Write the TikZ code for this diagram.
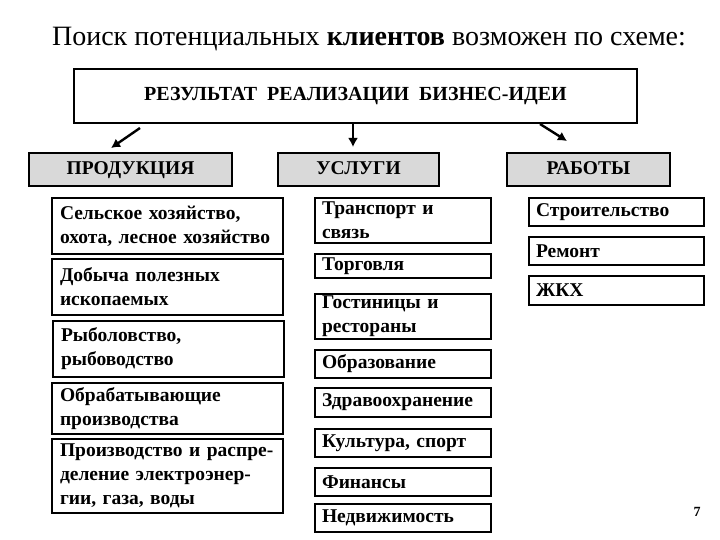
\documentclass[tikz,border=0pt]{standalone}
\usepackage{fontspec}
\setmainfont{Liberation Serif}
\usetikzlibrary{arrows.meta}
\definecolor{catgray}{HTML}{D9D9D9}
\tikzset{
  boxline/.style={draw=black, line width=2pt},
  topbox/.style={boxline, anchor=north west, minimum width=563pt, minimum height=54pt, inner sep=0pt,
    font=\fontsize{20}{22}\selectfont\bfseries},
  catbox/.style={boxline, fill=catgray, anchor=north west, minimum height=33pt, inner sep=0pt,
    text height=13pt, text depth=3pt, font=\fontsize{19.5}{22}\selectfont\bfseries},
  itembox/.style={boxline, anchor=north west, align=left, inner ysep=2pt,
    font=\fontsize{19.5}{24}\selectfont\bfseries},
  leftcol/.style={itembox, minimum width=231pt, text width=215pt, inner xsep=8pt},
  midcol/.style={itembox, minimum width=176pt, text width=162pt, inner xsep=7pt},
  rightcol/.style={itembox, minimum width=175pt, text width=161pt, inner xsep=7pt},
  arr/.style={line width=2.4pt, -{Latex[length=9pt,width=10pt]}},
}
\begin{document}
\begin{tikzpicture}[x=1pt,y=-1pt]
\useasboundingbox (0,0) rectangle (720,540);
\node[font=\fontsize{28}{30}\selectfont] (title) at (369,39) {Поиск потенциальных \textbf{клиентов} возможен по схеме:};
\node[topbox] (top) at (73,68) {РЕЗУЛЬТАТ\ \ РЕАЛИЗАЦИИ\ \ БИЗНЕС-ИДЕИ};

\node[catbox, minimum width=203pt] (prod) at (28,152) {ПРОДУКЦИЯ};
\node[catbox, minimum width=161pt] (usl) at (277,152) {УСЛУГИ};
\node[catbox, minimum width=163pt] (rab) at (506,152) {РАБОТЫ};

\coordinate (a1s) at (140,128);
\coordinate (a1e) at (111,148);
\coordinate (a2s) at (353,124);
\coordinate (a2e) at (353,147);
\coordinate (a3s) at (540,124);
\coordinate (a3e) at (567,141);
\draw[arr] (a1s) -- (a1e);
\draw[arr] (a2s) -- (a2e);
\draw[arr] (a3s) -- (a3e);

\node[leftcol, minimum height=56pt] (l1) at (51,197) {Сельское хозяйство,\\охота, лесное хозяйство};
\node[leftcol, minimum height=56pt] (l2) at (51,258) {Добыча полезных\\ископаемых};
\node[leftcol, minimum height=56pt] (l3) at (52,320) {Рыболовство,\\рыбоводство};
\node[leftcol, minimum height=51pt] (l4) at (51,382) {Обрабатывающие\\производства};
\node[leftcol, minimum height=74pt] (l5) at (51,438) {Производство и распре-\\деление электроэнер-\\гии, газа, воды};

\node[midcol, minimum height=45pt] (m1) at (314,197) {Транспорт и\\связь};
\node[midcol, minimum height=24pt] (m2) at (314,253) {Торговля};
\node[midcol, minimum height=44pt] (m3) at (314,293) {Гостиницы и\\рестораны};
\node[midcol, minimum height=28pt] (m4) at (314,349) {Образование};
\node[midcol, minimum height=29pt] (m5) at (314,387) {Здравоохранение};
\node[midcol, minimum height=28pt] (m6) at (314,428) {Культура, спорт};
\node[midcol, minimum height=28pt] (m7) at (314,467) {Финансы};
\node[midcol, minimum height=28pt] (m8) at (314,503) {Недвижимость};

\node[rightcol, minimum height=28pt] (r1) at (528,197) {Строительство};
\node[rightcol, minimum height=28pt] (r2) at (528,236) {Ремонт};
\node[rightcol, minimum height=29pt] (r3) at (528,275) {ЖКХ};

\node[font=\fontsize{14}{16}\selectfont\bfseries] (pg) at (697,512) {7};
\end{tikzpicture}
\end{document}
